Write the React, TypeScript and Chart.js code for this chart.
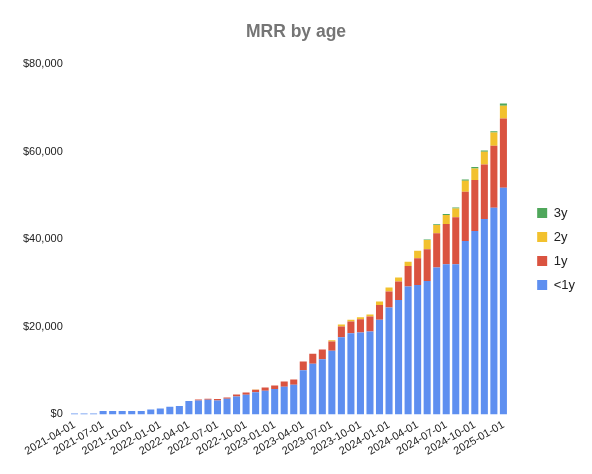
import { useEffect, useRef } from 'react';
import { Chart, registerables } from 'chart.js';

Chart.register(...registerables);

// monthly, 2021-04-01 .. 2025-01-01
const months: string[] = [];
for (let y = 2021; y <= 2025; y++) {
  for (let m = 1; m <= 12; m++) {
    if ((y === 2021 && m < 4) || (y === 2025 && m > 1)) continue;
    months.push(`${y}-${String(m).padStart(2, '0')}-01`);
  }
}

const lessThan1y = [
  200, 200, 200, 760, 760, 760, 760, 760, 1140, 1370, 1750, 1900, 3040, 3190, 3340, 3190,
  3570, 4100, 4480, 5090, 5400, 5780, 6310, 6760, 10100, 11550, 12620, 14550, 17630, 18540,
  18700, 18920, 21590, 24400, 26140, 29180, 29560, 30470, 33520, 34270, 34270, 39600, 41880,
  44620, 47200, 51760,
];
const oneY = [
  0, 0, 0, 0, 0, 0, 0, 0, 0, 0, 0, 0, 0, 230, 230, 310, 310, 460, 540, 530, 760, 830, 1210,
  1220, 1980, 2280, 2200, 2100, 2430, 2660, 3030, 3420, 3420, 3640, 4180, 4720, 6080, 7220,
  7820, 9200, 10720, 11240, 11620, 12460, 14130, 15800,
];
const twoY = [
  0, 0, 0, 0, 0, 0, 0, 0, 0, 0, 0, 0, 0, 0, 0, 0, 0, 0, 0, 80, 0, 0, 0, 0, 0, 0, 0, 300, 460,
  390, 460, 460, 750, 920, 920, 980, 1750, 2130, 1900, 2060, 2050, 2510, 2660, 2880, 3040, 2890,
];
const threeY = [
  0, 0, 0, 0, 0, 0, 0, 0, 0, 0, 0, 0, 0, 0, 0, 0, 0, 0, 0, 0, 0, 0, 0, 0, 0, 0, 0, 0, 0, 0, 0,
  0, 0, 0, 0, 0, 0, 100, 160, 200, 200, 300, 300, 300, 300, 530,
];

const FONT = 'Arial, "Liberation Sans", sans-serif';

// widen the legend box and push its items away from the plot, like the sheets chart
const legendShift = {
  id: 'legendShift',
  beforeLayout(chart: any) {
    const lg = chart.legend;
    if (lg && !lg.__wide) {
      const fit = lg.fit;
      lg.fit = function () {
        fit.call(this);
        this.width += 9;
      };
      lg.__wide = true;
    }
  },
  afterLayout(chart: any) {
    const lg = chart.legend;
    if (!lg) return;
    lg.left += 18;
    lg.right += 18;
    lg.top += 18;
    lg.bottom += 18;
  },
};

const MrrByAgeChart = () => {
  const chartRef = useRef<HTMLCanvasElement | null>(null);
  const chartInstance = useRef<Chart | null>(null);

  useEffect(() => {
    document.body.style.margin = '0';
    if (!chartRef.current) return;

    if (chartInstance.current) {
      chartInstance.current.destroy();
    }

    chartInstance.current = new Chart(chartRef.current, {
      type: 'bar',
      data: {
        labels: months,
        datasets: [
          { label: '<1y', data: lessThan1y, backgroundColor: '#5e8ff0' },
          { label: '1y', data: oneY, backgroundColor: '#da5340' },
          { label: '2y', data: twoY, backgroundColor: '#f2c12e' },
          { label: '3y', data: threeY, backgroundColor: '#4fa75b' },
        ],
      },
      plugins: [legendShift],
      options: {
        responsive: false,
        animation: false,
        layout: { padding: { left: 16, right: 16, bottom: 12 } },
        datasets: { bar: { categoryPercentage: 1, barPercentage: 0.74, borderWidth: 0 } },
        plugins: {
          title: {
            display: true,
            text: 'MRR by age',
            color: '#757575',
            font: { family: FONT, size: 17.5, weight: 'bold' },
            padding: { top: 22, bottom: 21 },
          },
          legend: {
            position: 'right',
            reverse: true,
            labels: {
              boxWidth: 10,
              boxHeight: 10,
              padding: 11,
              color: '#222',
              font: { family: FONT, size: 13 },
            },
          },
          tooltip: { enabled: false },
        },
        scales: {
          x: {
            stacked: true,
            grid: { display: false, drawTicks: false },
            border: { display: false },
            ticks: {
              autoSkip: false,
              minRotation: 30,
              maxRotation: 30,
              padding: 4,
              color: '#222',
              font: { family: FONT, size: 11 },
              callback: (_v, i) => (i % 3 === 0 ? months[i] : ''),
            },
          },
          y: {
            stacked: true,
            min: 0,
            max: 80000,
            grid: { display: false, drawTicks: false },
            border: { display: false },
            ticks: {
              stepSize: 20000,
              padding: 7,
              color: '#222',
              font: { family: FONT, size: 11 },
              callback: v => '$' + Number(v).toLocaleString('en-US'),
            },
          },
        },
      },
    });

    return () => {
      if (chartInstance.current) {
        chartInstance.current.destroy();
        chartInstance.current = null;
      }
    };
  }, []);

  return (
    <div style={{ width: 592, height: 474, background: '#fff' }}>
      <canvas ref={chartRef} width={592} height={474}></canvas>
    </div>
  );
};

export default function App() {
  return <MrrByAgeChart />;
}
